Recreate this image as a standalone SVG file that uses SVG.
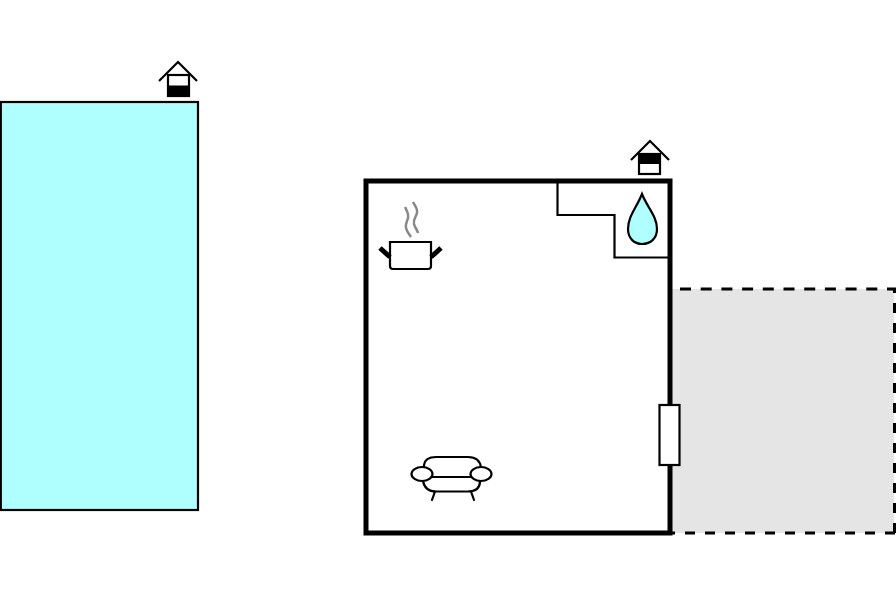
<svg xmlns="http://www.w3.org/2000/svg" width="896" height="597" viewBox="0 0 896 597">
<style>
.l{fill:none;stroke:#000;stroke-width:2.200}
.w{fill:#fff;stroke:#000;stroke-width:2.200}
.r{fill:none;stroke:#000;stroke-width:2.200;stroke-linecap:round;stroke-linejoin:round}
.d{fill:none;stroke:#000;stroke-width:3}
.s{fill:none;stroke:#888;stroke-width:2.500}
</style>
<rect width="896" height="597" fill="#fff"/>
<g id="pool"><rect x="0.800" y="102" width="197.200" height="408" fill="#b0ffff" stroke="#000" stroke-width="2.200"/></g>
<g id="house-left">
<path class="l" d="M159 81L178 62L197 81"/>
<rect x="168" y="75" width="21" height="21" class="w"/>
<rect x="168" y="85.500" width="21" height="10.500" fill="#000"/>
</g>
<g id="terrace"><path d="M671 289H894V533H671Z" fill="#e5e5e5"/>
<path class="d" d="M671 289H896" stroke-dasharray="11 9.700" stroke-dashoffset="11.700"/>
<path class="d" d="M894.500 289V533" stroke-dasharray="10 10" stroke-dashoffset="6"/>
<path class="d" d="M671 533H896" stroke-dasharray="10 10" stroke-dashoffset="6"/></g>
<g id="room"><rect x="366" y="181" width="304" height="352" fill="#fff" stroke="#000" stroke-width="5"/></g>
<g id="bath">
<path class="l" d="M557.500 181V215H614.500V257.500H669"/>
<path d="M642 194C637 207 628 216 628 229C628 238 634 244 642 244C651 244 657 238 657 229C657 216 647 207 642 194Z" fill="#b0ffff" stroke="#000" stroke-width="2.200"/>
</g>
<g id="house-right">
<path class="l" d="M631 160L650 141L669 160"/>
<rect x="639" y="154" width="21" height="20" class="w"/>
<rect x="639" y="154" width="21" height="10" fill="#000"/>
</g>
<g id="pot">
<path class="s" d="M405 207C407 211 409 214 408 218C407 222 405 224 406 228C407 232 409 234 411 237"/>
<path class="s" d="M413 202C415 206 418 209 417 213C416 217 413 219 414 224C415 228 417 229 418 233"/>
<path class="w" d="M390 242H431V266Q431 269 428 269H393Q390 269 390 266Z"/>
<path d="M380 248L390 257M441 248L431 257" fill="none" stroke="#000" stroke-width="5"/>
</g>
<g id="sofa">
<path class="r" d="M424 468V465Q425 457 436 457H468Q480 457 481 468M423 481Q425 491.500 436 491.500H468Q480 491.500 480 481M432 477H472M435 491.500L432 500M471 491.500L474 500"/>
<ellipse class="w" cx="422" cy="474" rx="10.500" ry="7"/>
<ellipse class="w" cx="481" cy="474" rx="10.500" ry="7"/>
</g>
<g id="door"><rect x="659.500" y="405" width="20" height="60" class="w"/></g>
</svg>
